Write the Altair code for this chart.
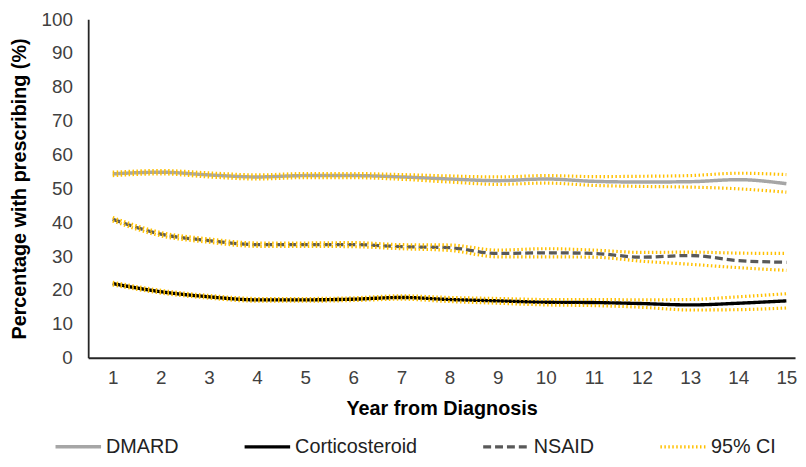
import altair as alt
import pandas as pd

years = list(range(1, 16))

dmard    = [54.3, 54.8, 54.0, 53.4, 53.8, 53.8, 53.4, 52.8, 52.3, 52.8, 52.1, 51.9, 52.0, 52.6, 51.4]
dmard_hi = [54.8, 55.3, 54.6, 54.0, 54.4, 54.4, 54.1, 53.7, 53.4, 53.8, 53.5, 53.6, 53.8, 54.5, 54.1]
dmard_lo = [53.8, 54.3, 53.4, 52.8, 53.2, 53.2, 52.7, 51.9, 51.2, 51.6, 50.9, 50.6, 50.4, 49.9, 48.9]

cortico    = [21.9, 19.5, 18.0, 17.1, 17.1, 17.3, 17.8, 17.2, 16.8, 16.4, 16.3, 16.0, 15.6, 16.1, 16.8]
cortico_hi = [22.3, 19.9, 18.4, 17.5, 17.5, 17.7, 18.3, 17.8, 17.5, 17.2, 17.2, 17.1, 17.2, 18.0, 18.9]
cortico_lo = [21.5, 19.1, 17.6, 16.7, 16.7, 16.9, 17.3, 16.6, 16.1, 15.6, 15.4, 14.9, 14.1, 14.2, 14.7]

nsaid    = [40.9, 36.5, 34.6, 33.4, 33.4, 33.4, 32.8, 32.5, 30.8, 31.0, 30.8, 29.7, 30.2, 28.7, 28.2]
nsaid_hi = [41.4, 37.0, 35.1, 33.9, 33.9, 34.0, 33.4, 33.3, 31.8, 32.2, 31.8, 31.1, 31.2, 30.9, 30.8]
nsaid_lo = [40.4, 36.0, 34.1, 32.9, 32.9, 32.8, 32.2, 31.7, 29.8, 29.8, 29.7, 28.5, 27.6, 26.6, 25.8]

series_names = ["DMARD", "Corticosteroid", "NSAID", "95% CI"]
series_colors = ["#a6a6a6", "#000000", "#595959", "#ffc000"]
series_dash = [[1, 0], [1, 0], [8, 4], [1.5, 2.5]]
series_width = [3.5, 3.2, 3.5, 1.6]

rows = []
for name, vals in [("DMARD", dmard), ("Corticosteroid", cortico), ("NSAID", nsaid)]:
    for y, v in zip(years, vals):
        rows.append({"year": y, "value": v, "series": name, "grp": name})
main_df = pd.DataFrame(rows)

ci_rows = []
for gname, vals in [("DMARD_hi", dmard_hi), ("DMARD_lo", dmard_lo),
                    ("Cortico_hi", cortico_hi), ("Cortico_lo", cortico_lo),
                    ("NSAID_hi", nsaid_hi), ("NSAID_lo", nsaid_lo)]:
    for y, v in zip(years, vals):
        ci_rows.append({"year": y, "value": v, "series": "95% CI", "grp": gname})
ci_df = pd.DataFrame(ci_rows)

FONT = "Liberation Sans"

x_enc = alt.X("year:Q",
              scale=alt.Scale(domain=[0.49, 15.18], nice=False, zero=False),
              axis=alt.Axis(values=years, format="d", title="Year from Diagnosis",
                            ticks=False, grid=False, labelPadding=11,
                            titlePadding=11, labelFlush=False))
y_enc = alt.Y("value:Q",
              scale=alt.Scale(domain=[0, 100], nice=False),
              axis=alt.Axis(values=list(range(0, 101, 10)), ticks=False, grid=False,
                            title="Percentage with prescribing (%)", labelPadding=16,
                            titlePadding=12))

legend = alt.Legend(title=None, orient="none", legendX=-35, legendY=407,
                    direction="horizontal", symbolType="stroke", symbolSize=2116,
                    columnPadding=59, labelOffset=3, labelFontSize=20,
                    labelFont=FONT, labelColor="#222222")

color_enc = alt.Color("series:N", scale=alt.Scale(domain=series_names, range=series_colors),
                      legend=legend)
dash_enc = alt.StrokeDash("series:N", scale=alt.Scale(domain=series_names, range=series_dash),
                          legend=legend)
width_enc = alt.StrokeWidth("series:N", scale=alt.Scale(domain=series_names, range=series_width),
                            legend=legend)

main = alt.Chart(main_df).mark_line(interpolate="monotone").encode(
    x=x_enc, y=y_enc, color=color_enc, strokeDash=dash_enc, strokeWidth=width_enc,
    detail="grp:N")

ci = alt.Chart(ci_df).mark_line(interpolate="monotone").encode(
    x=x_enc, y=y_enc, color=color_enc, strokeDash=dash_enc, strokeWidth=width_enc,
    detail="grp:N")

chart = alt.layer(main, ci).properties(
    width=714, height=342,
    autosize=alt.AutoSizeParams(type="none"),
    padding={"left": 81, "top": 9, "right": 3, "bottom": 100},
    background="white",
).configure_view(stroke=None).configure_axis(
    labelFont=FONT, titleFont=FONT, labelFontSize=19, titleFontSize=20,
    labelColor="#404040", titleColor="#000000", titleFontWeight="bold",
    domainColor="#262626", domainWidth=1.8,
)

chart.save("out.html", embed_options={"renderer": "svg", "actions": False})
